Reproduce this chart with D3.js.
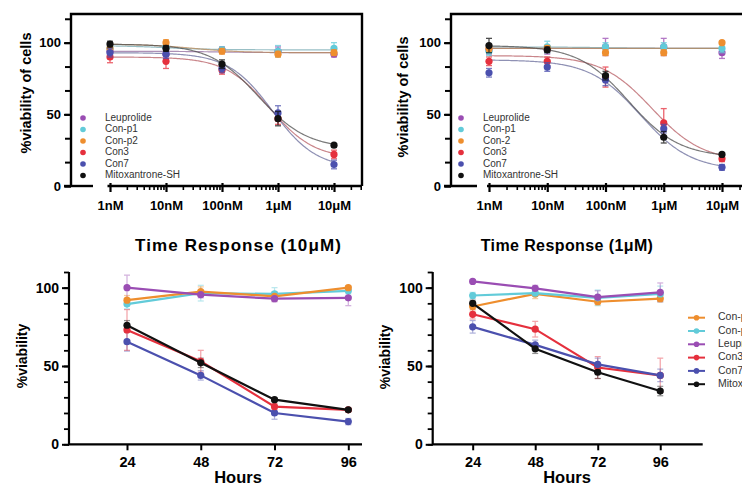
<!DOCTYPE html>
<html><head><meta charset="utf-8">
<script src="https://cdn.jsdelivr.net/npm/d3@7"></script>
<style>
body{margin:0;background:#fff;}
svg{display:block;font-family:"Liberation Sans",Arial,sans-serif;}
</style></head><body>
<svg id="chart" width="742" height="487"></svg>
<script>
// ---------- shared ----------
const PURPLE = "#9A4DB3", CYAN = "#62CBD9", ORANGE = "#EE8E2E", RED = "#E5303D", BLUE = "#4B50AE", BLACK = "#111111";
const doseLabels = ["1nM", "10nM", "100nM", "1μM", "10μM"];
const doseMolar = [1e-9, 1e-8, 1e-7, 1e-6, 1e-5];
const hours = [24, 48, 72, 96];

// ---------- top-left dose response ----------
const tlNames = ["Leuprolide", "Con-p1", "Con-p2", "Con3", "Con7", "Mitoxantrone-SH"];
const tlColors = [PURPLE, CYAN, ORANGE, RED, BLUE, BLACK];
const tlMeans = [
  [94, 92, 95, 94, 92],
  [96, 97, 95, 94, 96],
  [96, 100, 94, 92, 93],
  [90, 87, 81, 47, 22],
  [93, 92, 82, 51, 15],
  [99, 96, 85, 47, 28.5]
];
const tlErrors = [
  [3, 3, 2, 3, 2],
  [2, 2, 2, 4, 4],
  [2, 2, 2, 2, 2],
  [4, 5, 3, 4, 3],
  [3, 3, 3, 5, 3],
  [2, 2, 3, 5, 1]
];
const tlFitTop = [94, 98, 99, 90, 93, 99];
const tlFitBottom = [93, 95, 93, 19, 12, 26];
const tlFitLogIC50 = [-7, -8, -7.5, -6.15, -6.1, -6.35];
const tlFitHill = [1, 1, 1, 1.1, 1.1, 1];

// ---------- top-right dose response ----------
const trNames = ["Leuprolide", "Con-p1", "Con-2", "Con3", "Con7", "Mitoxantrone-SH"];
const trColors = [PURPLE, CYAN, ORANGE, RED, BLUE, BLACK];
const trMeans = [
  [95, 95, 97, 97, 93],
  [94, 97, 97, 97, 96],
  [96, 96, 93, 93, 100],
  [87, 87, 76, 44, 19],
  [79, 83, 74, 40, 13],
  [98, 95, 77, 34, 22]
];
const trErrors = [
  [3, 3, 6, 6, 4],
  [3, 4, 3, 3, 3],
  [2, 2, 2, 2, 1],
  [3, 3, 7, 10, 2],
  [3, 3, 4, 3, 2],
  [5, 2, 3, 4, 1]
];
const trFitTop = [96, 97, 96, 91, 88, 98];
const trFitBottom = [96, 96, 96, 17, 11, 20];
const trFitLogIC50 = [-7, -7, -7, -6.2, -6.4, -6.6];
const trFitHill = [1, 1, 1, 1, 1, 1];

// ---------- bottom-left time response (10μM) ----------
const blNames = ["Con-p1", "Con-p2", "Leuprolide", "Con7", "Con3", "Mitoxantrone-SH"];
const blColors = [CYAN, ORANGE, PURPLE, BLUE, RED, BLACK];
const blMeans = [
  [89.5, 96.5, 96, 98],
  [92, 97.5, 94.5, 100],
  [100, 95.5, 93, 93.5],
  [65.5, 44, 20, 14.5],
  [73, 53, 24, 22],
  [76, 52, 28.5, 22]
];
const blErrors = [
  [3, 5, 4, 2],
  [3, 3, 3, 1],
  [8, 2, 2, 5],
  [6, 3, 4, 2],
  [13, 7, 2, 1],
  [3, 3, 1, 1]
];

// ---------- bottom-right time response (1μM) ----------
const brNames = ["Con-p2", "Con-p1", "Leuprolide", "Con3", "Con7", "Mitoxantrone-SH"];
const brColors = [ORANGE, CYAN, PURPLE, RED, BLUE, BLACK];
const brMeans = [
  [88, 96, 91, 93],
  [95, 96.5, 93.5, 96],
  [104, 99.5, 94, 97],
  [83, 73.5, 49, 44],
  [75, 63.5, 51, 44],
  [90, 61, 46, 34]
];
const brErrors = [
  [3, 3, 2, 2],
  [2, 2, 5, 5],
  [1, 2, 4, 6],
  [3, 5, 7, 11],
  [4, 3, 4, 4],
  [2, 3, 4, 3]
];

const yTicksMajor = [0, 50, 100];

const svg = d3.select("#chart");

function fourPL(logx, top, bottom, logIC50, hill) {
  return bottom + (top - bottom) / (1 + Math.pow(10, (logx - logIC50) * hill));
}

function dosePanel(c) {
  const g = svg.append("g");
  const x = d3.scaleLog().domain([1e-9, 1e-5]).range([c.x1, c.x10]);
  const y = d3.scaleLinear().domain([0, 120]).range([186, 14]);
  const ax = c.axisX;

  // frame
  g.append("path").attr("d", `M${ax},186 V14 H${c.right} V186`)
    .attr("fill", "none").attr("stroke", "#000").attr("stroke-width", 2.4);

  // y axis ticks
  const minor = d3.range(0, 121, 50 / 3).filter(v => v <= 120.1);
  const yMinor = d3.axisLeft(y).tickValues(minor).tickSize(6).tickFormat("");
  const gy = g.append("g").attr("transform", `translate(${ax},0)`).call(yMinor);
  gy.select(".domain").remove();
  gy.selectAll("line").attr("stroke", "#000").attr("stroke-width", 2);
  const yMaj = d3.axisLeft(y).tickValues(yTicksMajor).tickSize(7).tickPadding(3);
  const gy2 = g.append("g").attr("transform", `translate(${ax},0)`).call(yMaj);
  gy2.select(".domain").remove();
  gy2.selectAll("line").attr("stroke", "#000").attr("stroke-width", 2);
  gy2.selectAll("text").attr("font-size", 13).attr("font-weight", "bold").attr("fill", "#000")
    .attr("font-family", "Liberation Sans, Arial, sans-serif");

  // x axis with break
  g.append("line").attr("x1", ax - 7).attr("x2", c.breakEnd).attr("y1", 186).attr("y2", 186)
    .attr("stroke", "#000").attr("stroke-width", 2.4);
  g.append("line").attr("x1", c.xStart).attr("x2", c.right).attr("y1", 186).attr("y2", 186)
    .attr("stroke", "#000").attr("stroke-width", 2.4);
  const minorX = [];
  for (let e = -9; e <= -5; e++) for (let k = 2; k <= 9; k++) {
    const v = k * Math.pow(10, e);
    if (x(v) <= c.right) minorX.push(v);
  }
  const gxMin = g.append("g").attr("transform", "translate(0,186)")
    .call(d3.axisBottom(x).tickValues(minorX).tickSize(4).tickFormat(""));
  gxMin.select(".domain").remove();
  gxMin.selectAll("line").attr("stroke", "#000").attr("stroke-width", 1.6);
  const gx = g.append("g").attr("transform", "translate(0,186)")
    .call(d3.axisBottom(x).tickValues(doseMolar).tickSize(6).tickPadding(9)
      .tickFormat((d, i) => doseLabels[i]));
  gx.select(".domain").remove();
  gx.selectAll("line").attr("stroke", "#000").attr("stroke-width", 2.2).attr("y1", -3);
  gx.selectAll("text").attr("font-size", 13).attr("font-weight", "bold").attr("fill", "#000")
    .attr("font-family", "Liberation Sans, Arial, sans-serif");

  // y label
  g.append("text").attr("transform", `translate(${c.labelX},${c.labelY}) rotate(-90)`)
    .attr("text-anchor", "middle").attr("dominant-baseline", "middle")
    .attr("font-size", 14.5).attr("font-weight", "bold").text("%viability of cells");

  // fits
  const logs = d3.range(-9, -5 + 0.001, 0.02);
  c.names.forEach((n, i) => {
    const line = d3.line().x(d => x(Math.pow(10, d))).y(d => y(fourPL(d, c.top[i], c.bottom[i], c.ic50[i], c.hill[i])))
      .curve(d3.curveLinear);
    g.append("path").attr("d", line(logs)).attr("fill", "none")
      .attr("stroke", d3.interpolateRgb(c.colors[i], "#888")(0.5)).attr("stroke-width", 1.2).attr("opacity", 0.75);
  });

  // error bars and points
  c.names.forEach((n, i) => {
    const col = c.colors[i];
    doseMolar.forEach((d, j) => {
      const m = c.means[i][j], e = c.errors[i][j];
      const px = x(d);
      const eg = g.append("g").attr("stroke", col).attr("stroke-width", 1.3).attr("opacity", 0.75);
      eg.append("line").attr("x1", px).attr("x2", px).attr("y1", y(m - e)).attr("y2", y(m + e));
      eg.append("line").attr("x1", px - 3).attr("x2", px + 3).attr("y1", y(m - e)).attr("y2", y(m - e));
      eg.append("line").attr("x1", px - 3).attr("x2", px + 3).attr("y1", y(m + e)).attr("y2", y(m + e));
      g.append("circle").attr("cx", px).attr("cy", y(m)).attr("r", 3.6).attr("fill", col);
    });
  });

  // legend
  const lg = g.append("g");
  c.names.forEach((n, i) => {
    const ly = c.legY + i * 11.5;
    lg.append("circle").attr("cx", c.legX).attr("cy", ly).attr("r", 2.8).attr("fill", c.colors[i]);
    lg.append("text").attr("x", c.legX + 22).attr("y", ly).attr("dominant-baseline", "middle")
      .attr("font-size", 10).attr("fill", "#333").text(n);
  });
}

function timePanel(c) {
  const g = svg.append("g");
  const x = d3.scaleLinear().domain([c.xmin, c.xmax]).range([c.axisX, c.axisEnd]);
  const y = d3.scaleLinear().domain([0, 110]).range([444.3, 272]);
  const ax = c.axisX;

  g.append("path").attr("d", `M${ax},272 V444.3 H${c.axisEnd}`)
    .attr("fill", "none").attr("stroke", "#000").attr("stroke-width", 2.2);

  const gyMin = g.append("g").attr("transform", `translate(${ax},0)`)
    .call(d3.axisLeft(y).tickValues(d3.range(0, 111, 10)).tickSize(5).tickFormat(""));
  gyMin.select(".domain").remove();
  gyMin.selectAll("line").attr("stroke", "#000").attr("stroke-width", 1.8);
  const gy = g.append("g").attr("transform", `translate(${ax},0)`)
    .call(d3.axisLeft(y).tickValues(yTicksMajor).tickSize(7).tickPadding(3));
  gy.select(".domain").remove();
  gy.selectAll("line").attr("stroke", "#000").attr("stroke-width", 2);
  gy.selectAll("text").attr("font-size", 14).attr("font-weight", "bold").attr("fill", "#000")
    .attr("font-family", "Liberation Sans, Arial, sans-serif");

  const gx = g.append("g").attr("transform", "translate(0,444.3)")
    .call(d3.axisBottom(x).tickValues(hours).tickSize(6).tickPadding(6));
  gx.select(".domain").remove();
  gx.selectAll("line").attr("stroke", "#000").attr("stroke-width", 2);
  gx.selectAll("text").attr("font-size", 14.5).attr("font-weight", "bold").attr("fill", "#000")
    .attr("font-family", "Liberation Sans, Arial, sans-serif");

  g.append("text").attr("x", c.titleX).attr("y", 251).attr("text-anchor", "middle")
    .attr("font-size", c.titleSize).attr("font-weight", "bold").attr("letter-spacing", c.titleSpacing)
    .text(c.title);
  g.append("text").attr("x", (c.xLabelX)).attr("y", 483).attr("text-anchor", "middle")
    .attr("font-size", 16.5).attr("font-weight", "bold").text("Hours");
  g.append("text").attr("transform", `translate(${c.labelX},${c.labelY}) rotate(-90)`)
    .attr("text-anchor", "middle").attr("dominant-baseline", "middle")
    .attr("font-size", 14).attr("font-weight", "bold").text("%viability");

  // error bars
  c.names.forEach((n, i) => {
    const col = c.colors[i];
    hours.forEach((h, j) => {
      const m = c.means[i][j], e = c.errors[i][j];
      const px = x(h);
      const eg = g.append("g").attr("stroke", col).attr("stroke-width", 1.2).attr("opacity", 0.45);
      eg.append("line").attr("x1", px).attr("x2", px).attr("y1", y(m - e)).attr("y2", y(m + e));
      eg.append("line").attr("x1", px - 3).attr("x2", px + 3).attr("y1", y(m - e)).attr("y2", y(m - e));
      eg.append("line").attr("x1", px - 3).attr("x2", px + 3).attr("y1", y(m + e)).attr("y2", y(m + e));
    });
  });
  // lines + points
  c.names.forEach((n, i) => {
    const col = c.colors[i];
    const line = d3.line().x((d, j) => x(hours[j])).y(d => y(d));
    g.append("path").attr("d", line(c.means[i])).attr("fill", "none").attr("stroke", col).attr("stroke-width", 2.2);
    c.means[i].forEach((m, j) => {
      g.append("circle").attr("cx", x(hours[j])).attr("cy", y(m)).attr("r", 3.6).attr("fill", col);
    });
  });

  if (c.legend) {
    c.names.forEach((n, i) => {
      const ly = c.legY + i * 13.3;
      g.append("line").attr("x1", c.legX).attr("x2", c.legX + 17).attr("y1", ly).attr("y2", ly)
        .attr("stroke", c.colors[i]).attr("stroke-width", 2);
      g.append("circle").attr("cx", c.legX + 8.5).attr("cy", ly).attr("r", 2.8).attr("fill", c.colors[i]);
      g.append("text").attr("x", c.legX + 30).attr("y", ly).attr("dominant-baseline", "middle")
        .attr("font-size", 10.5).attr("fill", "#333").text(n);
    });
  }
}

dosePanel({
  names: tlNames, colors: tlColors, means: tlMeans, errors: tlErrors,
  top: tlFitTop, bottom: tlFitBottom, ic50: tlFitLogIC50, hill: tlFitHill,
  axisX: 71, right: 362, x1: 110, x10: 334, xStart: 107.5, breakEnd: 93,
  labelX: 27, labelY: 93, legX: 83, legY: 118
});
dosePanel({
  names: trNames, colors: trColors, means: trMeans, errors: trErrors,
  top: trFitTop, bottom: trFitBottom, ic50: trFitLogIC50, hill: trFitHill,
  axisX: 451, right: 760, x1: 489, x10: 722, xStart: 487, breakEnd: 477,
  labelX: 404, labelY: 97, legX: 461, legY: 118
});
timePanel({
  names: blNames, colors: blColors, means: blMeans, errors: blErrors,
  axisX: 69, axisEnd: 362, xmin: 5.13, xmax: 100.46,
  title: "Time Response (10μM)", titleX: 238.5, titleSize: 17, titleSpacing: 1.1,
  xLabelX: 238, labelX: 23, labelY: 356, legend: false
});
timePanel({
  names: brNames, colors: brColors, means: brMeans, errors: brErrors,
  axisX: 432.7, axisEnd: 702.7, xmin: 8.65, xmax: 112.3,
  title: "Time Response (1μM)", titleX: 567, titleSize: 16, titleSpacing: 0.4,
  xLabelX: 567, labelX: 386, labelY: 357, legend: true, legX: 688, legY: 317.7
});
</script>
</body></html>
